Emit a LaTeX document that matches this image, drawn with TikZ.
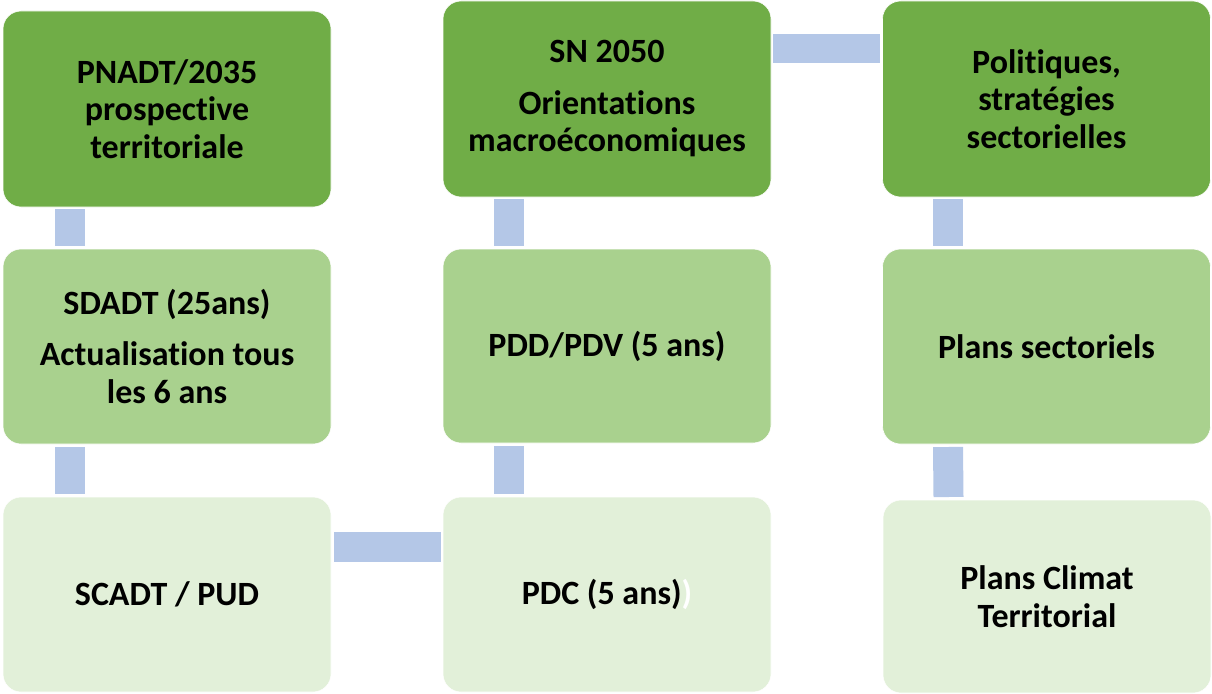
\documentclass[tikz,border=0pt]{standalone}
\usepackage{fontspec}
\setmainfont{Carlito}[Ligatures={NoCommon}]
\definecolor{gdark}{HTML}{70AD47}
\definecolor{gmid}{HTML}{A9D18E}
\definecolor{glight}{HTML}{E2F0D9}
\definecolor{connc}{HTML}{B4C7E7}
\begin{document}
\begin{tikzpicture}[x=1pt,y=-1pt,
  box/.style={rectangle, rounded corners=18pt, draw=white, line width=0.6pt, inner sep=0pt, outer sep=0pt,
    minimum width=328pt, minimum height=196pt, align=center,
    font=\fontsize{34}{37.5}\selectfont\bfseries},
  lvA/.style={box, fill=gdark},
  lvB/.style={box, fill=gmid},
  lvC/.style={box, fill=glight},
  conn/.style={draw=connc, line width=30pt}]
\useasboundingbox (0,0) rectangle (1212,693);
% row 1
\node[lvA] (a1) at (167,109) {PNADT/2035\\prospective\\territoriale};
\node[lvA] (a2) at (607,99) {SN 2050\\[14pt]Orientations\\macroéconomiques};
\node[lvA] (a3) at (1046.5,99) {Politiques,\\stratégies\\sectorielles};
% row 2
\node[lvB, minimum height=195pt] (b1) at (167,346.5) {SDADT (25ans)\\[14pt]Actualisation tous\\les 6 ans};
\node[lvB, minimum height=194pt] (b2) at (607,346) {PDD/PDV (5 ans)};
\node[lvB, minimum height=195pt] (b3) at (1046.5,346.5) {Plans sectoriels};
% row 3
\node[lvC, minimum height=195pt] (c1) at (167,594.5) {SCADT / PUD};
\node[lvC, minimum height=195pt] (c2) at (607,594.5) {PDC (5 ans)\textcolor{white}{)}};
\node[lvC, minimum height=193pt] (c3) at (1047,596.5) {Plans Climat\\Territorial};
% connectors
\draw[conn] ([xshift=67pt,yshift=-2pt]a1.south west) -- ([xshift=67pt,yshift=3pt]b1.north west);
\draw[conn] ([xshift=67pt,yshift=-3pt]b1.south west) -- ([xshift=67pt,yshift=3pt]c1.north west);
\draw[conn] ([xshift=66pt,yshift=-2pt]a2.south west) -- ([xshift=66pt,yshift=3pt]b2.north west);
\draw[conn] ([xshift=66pt,yshift=-3pt]b2.south west) -- ([xshift=66pt,yshift=3pt]c2.north west);
\draw[conn] ([xshift=65.5pt,yshift=-2pt]a3.south west) -- ([xshift=65.5pt,yshift=3pt]b3.north west);
\draw[conn] ([xshift=65.5pt,yshift=-3pt]b3.south west) -- ([xshift=65.5pt,yshift=3pt]c3.north west);
\draw[conn, line width=29pt] ([xshift=2pt,yshift=-47.5pt]a2.north east) -- ([xshift=-3pt,yshift=-47.5pt]a3.north west);
\draw[conn] ([xshift=3pt,yshift=-50pt]c1.north east) -- ([xshift=-2pt,yshift=-50pt]c2.north west);
\end{tikzpicture}
\end{document}
